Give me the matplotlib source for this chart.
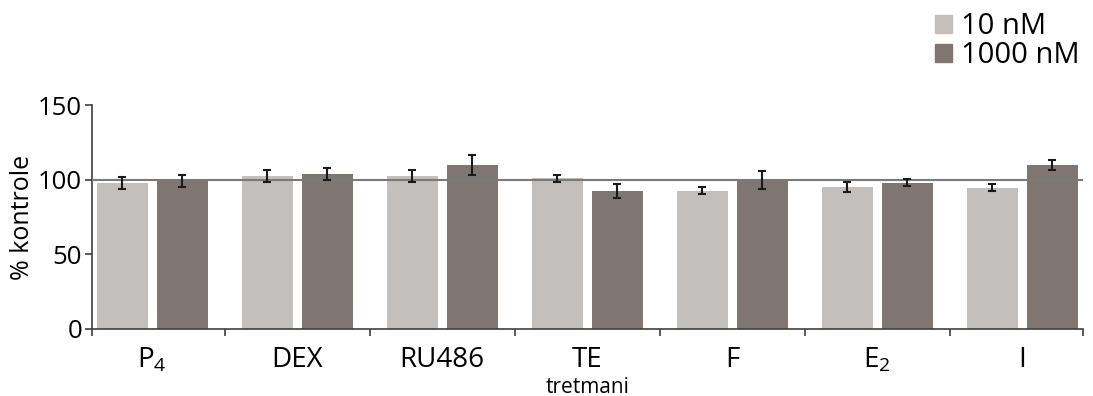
import numpy as np
import matplotlib
matplotlib.use("Agg")
import matplotlib.pyplot as plt
from matplotlib.patches import Patch

plt.rcParams['font.family'] = ['Open Sans', 'DejaVu Sans']
plt.rcParams['mathtext.fontset'] = 'custom'
plt.rcParams['mathtext.rm'] = 'Open Sans'
plt.rcParams['mathtext.it'] = 'Open Sans'

# data
tretmani = ['P$_4$', 'DEX', 'RU486', 'TE', 'F', 'E$_2$', 'I']
nM10 = [98.0, 102.3, 102.5, 100.9, 92.6, 95.1, 94.6]
nM10_err = [4.0, 4.0, 4.0, 2.4, 2.2, 3.2, 2.2]
nM1000 = [99.2, 104.0, 109.8, 92.4, 99.8, 98.0, 109.8]
nM1000_err = [4.2, 4.1, 6.7, 5.0, 6.2, 2.2, 3.2]

light = '#c2bfbc'
dark = '#7f7672'
axcol = '#404040'

x = np.arange(len(tretmani))
w = 0.352
off = 0.207

fig = plt.figure(figsize=(10.93, 3.96), dpi=100)
ax = fig.add_axes([0.0842, 0.1692, 0.9067, 0.5656])

ax.bar(x - off, nM10, w, color=light, zorder=2)
ax.bar(x + off, nM1000, w, color=dark, zorder=2)
ax.errorbar(x - off, nM10, yerr=nM10_err, fmt='none', ecolor='#1a1a1a',
            elinewidth=1.5, capsize=3, capthick=1.5, zorder=4)
ax.errorbar(x + off, nM1000, yerr=nM1000_err, fmt='none', ecolor='#1a1a1a',
            elinewidth=1.5, capsize=3, capthick=1.5, zorder=4)

ax.axhline(100, color='#7a7a7a', lw=1.5, zorder=3)

ax.set_xlim(-0.415, 6.419)
ax.set_ylim(0, 150)
ax.set_yticks([0, 50, 100, 150])
ax.tick_params(axis='y', labelsize=18.5, length=5, width=1.2, color=axcol, pad=2)
ax.set_xticks(x)
ax.set_xticklabels(tretmani, fontsize=20)
ax.tick_params(axis='x', length=0, pad=12)
ax.set_xticks(list(np.arange(0.5, 6.0, 1.0)) + [-0.415, 6.419], minor=True)
ax.tick_params(axis='x', which='minor', length=5, width=1.2, color=axcol)

for s in ['top', 'right']:
    ax.spines[s].set_visible(False)
for s in ['left', 'bottom']:
    ax.spines[s].set_color(axcol)
    ax.spines[s].set_linewidth(1.2)

ax.set_ylabel('% kontrole', fontsize=18, labelpad=2)
ax.set_xlabel('tretmani', fontsize=15, labelpad=2)

handles = [Patch(color=light), Patch(color=dark)]
fig.legend(handles, ['10 nM', '1000 nM'], loc='upper right',
           bbox_to_anchor=(1.012, 1.035), frameon=False, fontsize=21,
           handlelength=0.6, handleheight=0.6, handletextpad=0.3,
           labelspacing=0.0)

fig.savefig('out.png', dpi=100)
